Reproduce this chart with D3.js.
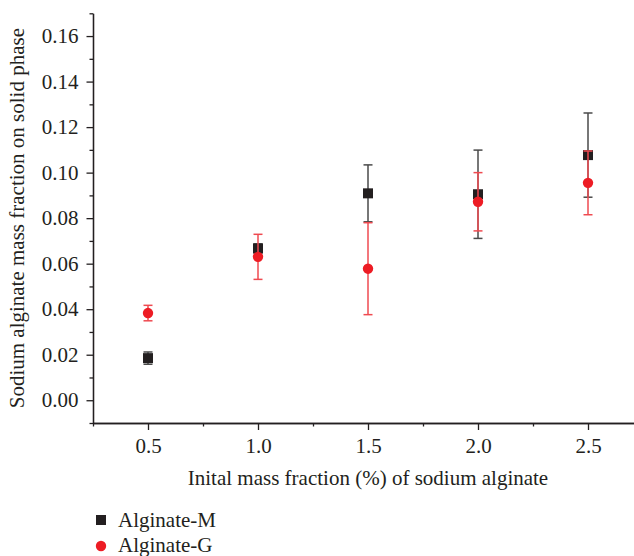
<!DOCTYPE html>
<html>
<head>
<meta charset="utf-8">
<script src="https://cdn.jsdelivr.net/npm/d3@7"></script>
<style>
  html, body { margin: 0; padding: 0; background: #fff; }
  svg { display: block; }
  text { font-family: "Liberation Serif", "DejaVu Serif", serif; fill: #231f20; }
</style>
</head>
<body>
<svg id="chart" width="634" height="556"></svg>
<script>
// ---- data ----
const xValues = [0.5, 1.0, 1.5, 2.0, 2.5];
const seriesNames = ["Alginate-M", "Alginate-G"];
const alginateM = [0.0185, 0.0667, 0.0909, 0.0905, 0.1077];
const alginateMErr = [0.0027, 0.0020, 0.0125, 0.0194, 0.0185];
const alginateG = [0.0383, 0.0630, 0.0578, 0.0872, 0.0955];
const alginateGErr = [0.0034, 0.0099, 0.0202, 0.0128, 0.0140];
const xMajorTicks = [0.5, 1.0, 1.5, 2.0, 2.5];
const xMinorTicks = [0.25, 0.75, 1.25, 1.75, 2.25, 2.75];
const yMajorTicks = [0.00, 0.02, 0.04, 0.06, 0.08, 0.10, 0.12, 0.14, 0.16];
const yMinorTicks = [-0.01, 0.01, 0.03, 0.05, 0.07, 0.09, 0.11, 0.13, 0.15, 0.17];
const xTitle = "Inital mass fraction (%) of sodium alginate";
const yTitle = "Sodium alginate mass fraction on solid phase";

const svg = d3.select("#chart");
const x = d3.scaleLinear().domain([0.25, 2.75]).range([93, 643]);
const y = d3.scaleLinear().domain([-0.01, 0.17]).range([423, 13.3]);
const axisColor = "#231f20";
const fontSize = 21;

// Y axis
const yMinor = svg.append("g").attr("transform", `translate(${x(0.25)},0)`)
  .call(d3.axisLeft(y).tickValues(yMinorTicks).tickSize(3.5).tickSizeOuter(0).tickFormat(""));
const yMajor = svg.append("g").attr("transform", `translate(${x(0.25)},0)`)
  .call(d3.axisLeft(y).tickValues(yMajorTicks).tickSize(6.5).tickSizeOuter(0).tickPadding(8)
    .tickFormat(d3.format(".2f")));
// X axis
const xMinor = svg.append("g").attr("transform", `translate(0,${y(-0.01)})`)
  .call(d3.axisBottom(x).tickValues(xMinorTicks).tickSize(3.5).tickSizeOuter(0).tickFormat(""));
const xMajor = svg.append("g").attr("transform", `translate(0,${y(-0.01)})`)
  .call(d3.axisBottom(x).tickValues(xMajorTicks).tickSize(7).tickSizeOuter(0).tickPadding(8)
    .tickFormat(d3.format(".1f")));

[yMinor, yMajor, xMinor, xMajor].forEach(g => {
  g.selectAll("path.domain").attr("stroke", axisColor).attr("stroke-width", 1.3);
  g.selectAll(".tick line").attr("stroke", axisColor).attr("stroke-width", 1.3);
  g.selectAll(".tick text").attr("font-size", fontSize).attr("fill", axisColor)
    .attr("font-family", '"Liberation Serif", serif');
});

// Titles
svg.append("text").attr("x", 368).attr("y", 485).attr("text-anchor", "middle")
  .attr("font-size", fontSize).text(xTitle);
svg.append("text").attr("transform", `translate(24,${y(0.08)}) rotate(-90)`)
  .attr("text-anchor", "middle").attr("font-size", fontSize).text(yTitle);

// Error bars + markers
const capW = 9;
function drawErr(vals, errs, color) {
  const g = svg.append("g");
  xValues.forEach((xv, i) => {
    const cx = x(xv), top = y(vals[i] + errs[i]), bot = y(vals[i] - errs[i]);
    g.append("line").attr("x1", cx).attr("x2", cx).attr("y1", top).attr("y2", bot)
      .attr("stroke", color).attr("stroke-width", 1.5);
    [top, bot].forEach(yy => g.append("line").attr("x1", cx - capW / 2).attr("x2", cx + capW / 2)
      .attr("y1", yy).attr("y2", yy).attr("stroke", color).attr("stroke-width", 1.5));
  });
}
const mColor = "#231f20", gColor = "#ed1c24";
drawErr(alginateM, alginateMErr, "#4a4a4a");
svg.append("g").selectAll("rect").data(alginateM).join("rect")
  .attr("x", (d, i) => x(xValues[i]) - 5).attr("y", d => y(d) - 5)
  .attr("width", 10).attr("height", 10).attr("fill", mColor);
drawErr(alginateG, alginateGErr, "#ef4a50");
svg.append("g").selectAll("circle").data(alginateG).join("circle")
  .attr("cx", (d, i) => x(xValues[i])).attr("cy", d => y(d)).attr("r", 5.2)
  .attr("fill", gColor);

// Legend
const leg = svg.append("g");
leg.append("rect").attr("x", 96).attr("y", 515).attr("width", 10).attr("height", 10).attr("fill", mColor);
leg.append("text").attr("x", 118).attr("y", 527).attr("font-size", fontSize).text(seriesNames[0]);
leg.append("circle").attr("cx", 101).attr("cy", 546).attr("r", 5.2).attr("fill", gColor);
leg.append("text").attr("x", 118).attr("y", 552).attr("font-size", fontSize).text(seriesNames[1]);
</script>
</body>
</html>
